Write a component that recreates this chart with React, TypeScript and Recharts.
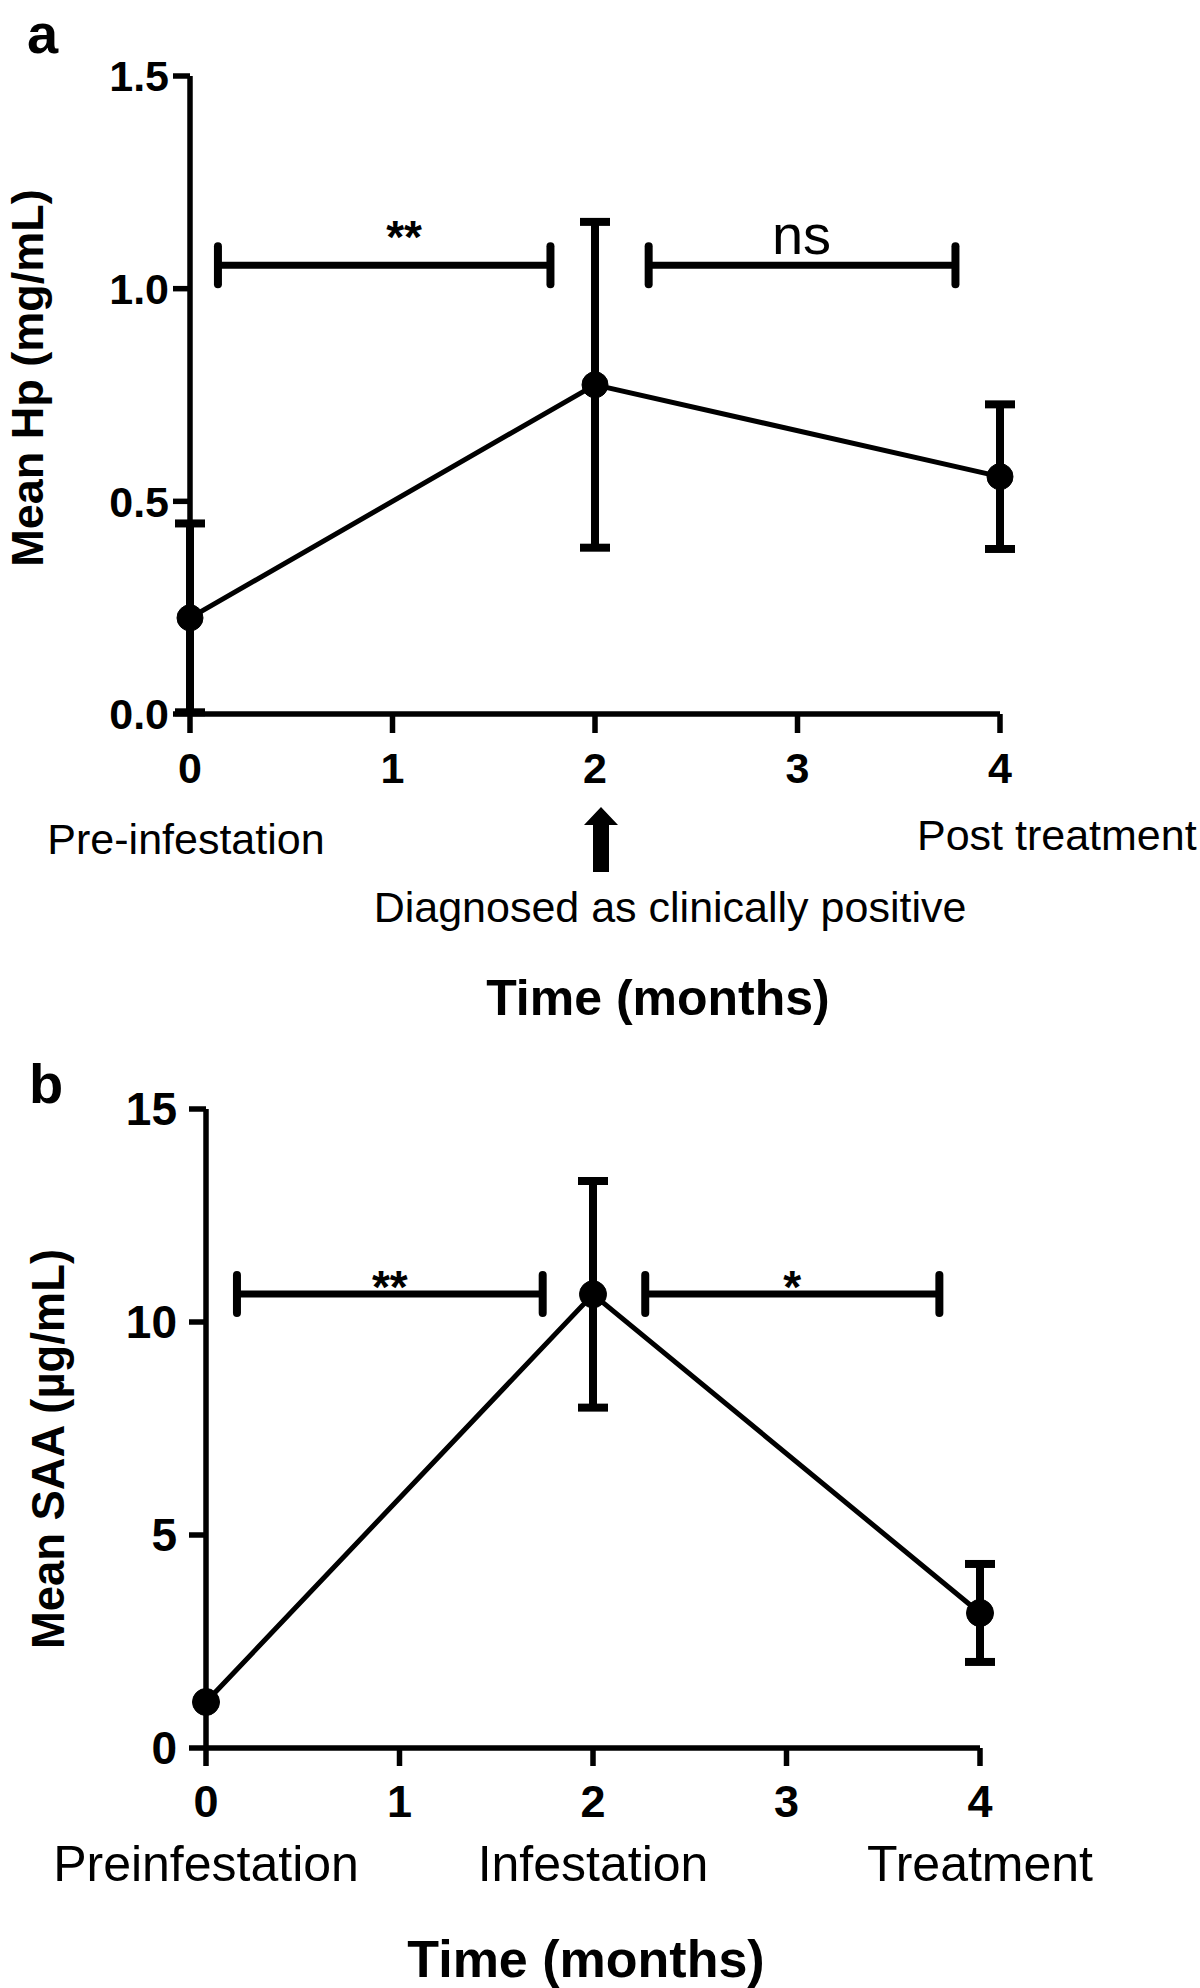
import React from "react";
import {
  ComposedChart,
  Line,
  ErrorBar,
  XAxis,
  YAxis,
  ReferenceLine,
  ReferenceDot,
  Customized,
} from "recharts";

// sampling months shared by both panels
const months = [0, 2, 4];
const monthTicks = [0, 1, 2, 3, 4];

// panel a: haptoglobin
const hpMean = [0.226, 0.774, 0.558];
const hpSem = [0.222, 0.383, 0.17];
const hpTicks = [0, 0.5, 1.0, 1.5];
const hpPhases: Record<number, string> = {
  0: "Pre-infestation",
  2: "Diagnosed as clinically positive",
  4: "Post treatment",
};
const hpBrackets = [
  { from: 0.138, to: 1.78, at: 1.055, labelAt: 1.057, label: "**" },
  { from: 2.265, to: 3.78, at: 1.055, labelAt: 3.02, label: "ns" },
];

// panel b: serum amyloid A (no visible error bar at month 0)
const saaMean = [1.08, 10.65, 3.17];
const saaSem = [0, 2.66, 1.15];
const saaTicks = [0, 5, 10, 15];
const saaPhases: Record<number, string> = {
  0: "Preinfestation",
  2: "Infestation",
  4: "Treatment",
};
const saaBrackets = [
  { from: 0.16, to: 1.74, at: 10.66, labelAt: 0.95, label: "**" },
  { from: 2.27, to: 3.79, at: 10.66, labelAt: 3.03, label: "*" },
];

const hpRows = months.map((m, i) => ({ month: m, mean: hpMean[i], sem: hpSem[i] }));
const saaRows = months.map((m, i) => ({ month: m, mean: saaMean[i], sem: saaSem[i] }));

const FONT = "'Liberation Sans', Arial, Helvetica, sans-serif";
const INK = "#000";

// half length of the bracket end caps, in px, turned into data units per panel
const CAP_PX = 19;
const HP_PLOT_H = 714 - 76;
const SAA_PLOT_H = 708 - 69;

function HpTick(props: any) {
  const { x, y, payload } = props;
  const v = payload.value as number;
  return (
    <g>
      <text x={x} y={y + 48} textAnchor="middle" fontSize={43} fontWeight={700} fill={INK}>
        {v}
      </text>
      {v === 0 ? (
        <text x={x - 4} y={y + 119} textAnchor="middle" fontSize={43} fill={INK}>
          {hpPhases[0]}
        </text>
      ) : null}
      {v === 2 ? (
        <g>
          <path
            d={`M${x + 6} ${y + 72} L${x + 23} ${y + 90} L${x + 14} ${y + 90} L${x + 14} ${y + 137} L${x - 2} ${y + 137} L${x - 2} ${y + 90} L${x - 11} ${y + 90} Z`}
            fill={INK}
          />
          <text x={x + 75} y={y + 187} textAnchor="middle" fontSize={43} fill={INK}>
            {hpPhases[2]}
          </text>
        </g>
      ) : null}
      {v === 4 ? (
        <text x={x - 83} y={y + 115} textAnchor="start" fontSize={43} fill={INK}>
          {hpPhases[4]}
        </text>
      ) : null}
    </g>
  );
}

function SaaTick(props: any) {
  const { x, y, payload } = props;
  const v = payload.value as number;
  return (
    <g>
      <text x={x} y={y + 49} textAnchor="middle" fontSize={45} fontWeight={700} fill={INK}>
        {v}
      </text>
      {saaPhases[v] ? (
        <text x={x} y={y + 113} textAnchor="middle" fontSize={50} fill={INK}>
          {saaPhases[v]}
        </text>
      ) : null}
    </g>
  );
}

const sigText =
  (text: string, size: number, weight: number, off: number) =>
  (props: any) => {
    const vb = props.viewBox || {};
    const cx = (vb.x ?? 0) + (vb.width ?? 0) / 2;
    const cy = (vb.y ?? 0) + (vb.height ?? 0) / 2;
    return (
      <text x={cx} y={cy - off} textAnchor="middle" fontSize={size} fontWeight={weight} fill={INK}>
        {text}
      </text>
    );
  };

function brackets(list: typeof hpBrackets, cap: number, labelStyle: (b: any) => any) {
  const out: React.ReactNode[] = [];
  list.forEach((b, i) => {
    out.push(
      <ReferenceLine
        key={`h${i}`}
        segment={[
          { x: b.from, y: b.at },
          { x: b.to, y: b.at },
        ]}
        stroke={INK}
        strokeWidth={7}
      />,
    );
    [b.from, b.to].forEach((xv, j) =>
      out.push(
        <ReferenceLine
          key={`c${i}${j}`}
          segment={[
            { x: xv, y: b.at - cap },
            { x: xv, y: b.at + cap },
          ]}
          stroke={INK}
          strokeWidth={8}
          strokeLinecap="round"
        />,
      ),
    );
    out.push(
      <ReferenceDot
        key={`l${i}`}
        x={b.labelAt}
        y={b.at}
        r={0}
        fill="none"
        stroke="none"
        label={labelStyle(b)}
      />,
    );
  });
  return out;
}

const axisLine = { stroke: INK, strokeWidth: 5.5 };

export default function App() {
  const hpCap = (CAP_PX * 1.5) / HP_PLOT_H;
  const saaCap = (CAP_PX * 15) / SAA_PLOT_H;

  return (
    <div
      style={{
        position: "absolute",
        left: 0,
        top: 0,
        width: 1200,
        height: 1988,
        background: "#fff",
        fontFamily: FONT,
        overflow: "hidden",
      }}
    >
      <div style={{ position: "absolute", left: 0, top: 0 }}>
        <ComposedChart
          width={1200}
          height={1040}
          data={hpRows}
          margin={{ top: 76, right: 200, bottom: 46, left: 70 }}
        >
          <XAxis
            type="number"
            dataKey="month"
            domain={[0, 4]}
            ticks={monthTicks}
            interval={0}
            height={280}
            tickSize={19}
            tickMargin={2}
            axisLine={axisLine}
            tickLine={axisLine}
            tick={(p: any) => <HpTick {...p} />}
          />
          <YAxis
            type="number"
            domain={[0, 1.5]}
            ticks={hpTicks}
            interval={0}
            width={120}
            tickSize={17}
            tickMargin={4}
            axisLine={axisLine}
            tickLine={axisLine}
            tickFormatter={(v: number) => v.toFixed(1)}
            tick={{ fill: INK, fontSize: 43, fontWeight: 700 }}
          />
          {brackets(hpBrackets, hpCap, (b) =>
            b.label === "ns" ? sigText("ns", 56, 400, 11) : sigText(b.label, 46, 700, 12),
          )}
          <Line
            type="linear"
            dataKey="mean"
            stroke={INK}
            strokeWidth={5}
            dot={{ r: 13, fill: INK, stroke: INK, strokeWidth: 1 }}
            activeDot={false}
            isAnimationActive={false}
          >
            <ErrorBar dataKey="sem" direction="y" width={15} strokeWidth={8} stroke={INK} isAnimationActive={false} />
          </Line>
          <Customized
            component={() => (
              <g fill={INK}>
                <text x={27} y={53} fontSize={56} fontWeight={700}>
                  a
                </text>
                <text
                  x={43}
                  y={378}
                  transform="rotate(-90 43 378)"
                  textAnchor="middle"
                  fontSize={45}
                  fontWeight={700}
                >
                  Mean Hp (mg/mL)
                </text>
                <text x={658} y={1015} textAnchor="middle" fontSize={50} fontWeight={700}>
                  Time (months)
                </text>
              </g>
            )}
          />
        </ComposedChart>
      </div>

      <div style={{ position: "absolute", left: 0, top: 1040 }}>
        <ComposedChart
          width={1200}
          height={948}
          data={saaRows}
          margin={{ top: 69, right: 220, bottom: 40, left: 86 }}
        >
          <XAxis
            type="number"
            dataKey="month"
            domain={[0, 4]}
            ticks={monthTicks}
            interval={0}
            height={200}
            tickSize={18}
            tickMargin={2}
            axisLine={axisLine}
            tickLine={axisLine}
            tick={(p: any) => <SaaTick {...p} />}
          />
          <YAxis
            type="number"
            domain={[0, 15]}
            ticks={saaTicks}
            interval={0}
            width={120}
            tickSize={17}
            tickMargin={12}
            axisLine={axisLine}
            tickLine={axisLine}
            tick={{ fill: INK, fontSize: 46, fontWeight: 700 }}
          />
          {brackets(saaBrackets, saaCap, (b) => sigText(b.label, 46, 700, -9))}
          <Line
            type="linear"
            dataKey="mean"
            stroke={INK}
            strokeWidth={5}
            dot={{ r: 13.5, fill: INK, stroke: INK, strokeWidth: 1 }}
            activeDot={false}
            isAnimationActive={false}
          >
            <ErrorBar dataKey="sem" direction="y" width={15} strokeWidth={8} stroke={INK} isAnimationActive={false} />
          </Line>
          <Customized
            component={() => (
              <g fill={INK}>
                <text x={29} y={63} fontSize={56} fontWeight={700}>
                  b
                </text>
                <text
                  x={64}
                  y={409}
                  transform="rotate(-90 64 409)"
                  textAnchor="middle"
                  fontSize={46}
                  fontWeight={700}
                  textLength={400}
                  lengthAdjust="spacingAndGlyphs"
                >
                  Mean SAA (µg/mL)
                </text>
                <text x={586} y={937} textAnchor="middle" fontSize={52} fontWeight={700}>
                  Time (months)
                </text>
              </g>
            )}
          />
        </ComposedChart>
      </div>
    </div>
  );
}
